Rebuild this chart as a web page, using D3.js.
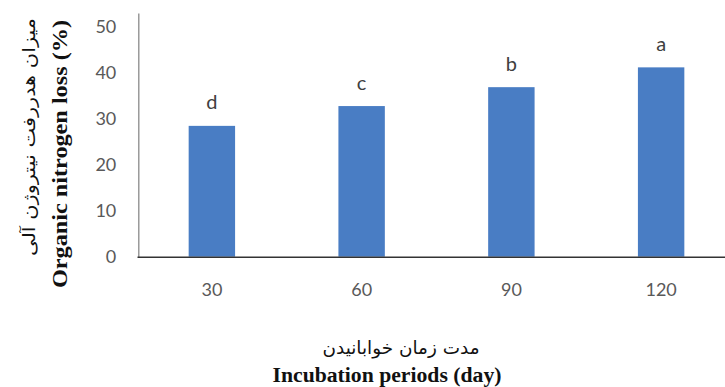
<!DOCTYPE html>
<html>
  <head>
    <meta charset="utf-8">
    <title>Organic nitrogen loss</title>
    <style>
      body { margin: 0; background: #fff; }
      .tick text { font-family: Lato, "Open Sans", sans-serif; font-size: 18px; fill: #595959; }
    </style>
    <script src="https://d3js.org/d3.v7.min.js"></script>
  </head>
  <body>
    <script type="text/javascript">
      // data
      var periods = ["30", "60", "90", "120"];
      var loss = [28.4, 32.7, 36.8, 41.1];
      var letters = ["d", "c", "b", "a"];
      var yTicks = [0, 10, 20, 30, 40, 50];
      var yTop = 52.9;   // the axis line runs a bit above 50

      var width = 725, height = 387;

      var svg = d3.select("body").append("svg")
          .attr("width", width)
          .attr("height", height);

      var x = d3.scaleBand()
          .domain(periods)
          .range([137, 736])
          .paddingInner(0.69)
          .paddingOuter(0.345);

      var y = d3.scaleLinear()
          .domain([0, yTop])
          .range([256.7, 13]);

      // bars
      svg.selectAll("rect.bar")
        .data(loss)
        .enter()
        .append("rect")
          .attr("class", "bar")
          .attr("x", function(d, i) { return x(periods[i]); })
          .attr("width", x.bandwidth())
          .attr("y", function(d) { return y(d); })
          .attr("height", function(d) { return y(0) - y(d); })
          .style("fill", "#497dc4");

      // significance letters
      svg.selectAll("text.letter")
        .data(loss)
        .enter()
        .append("text")
          .attr("class", "letter")
          .attr("x", function(d, i) { return x(periods[i]) + x.bandwidth() / 2; })
          .attr("y", function(d) { return y(d) - 16.5; })
          .attr("text-anchor", "middle")
          .style("font-family", "Lato, sans-serif")
          .style("font-size", "20px")
          .style("fill", "#404040")
          .text(function(d, i) { return letters[i]; });

      // y axis
      var yAxis = svg.append("g")
          .attr("transform", "translate(138.3,0)")
          .call(d3.axisLeft(y).tickValues(yTicks).tickSize(0).tickPadding(22).tickFormat(d3.format("d")));
      yAxis.select(".domain").attr("stroke", "#8a8a8a").attr("stroke-width", 1.3);

      // x axis
      var xAxis = svg.append("g")
          .attr("transform", "translate(0," + y(0) + ")")
          .call(d3.axisBottom(x).tickSize(0).tickPadding(27));
      xAxis.select(".domain").attr("stroke", "#333").attr("stroke-width", 1.5);

      // y titles
      svg.append("text")
          .attr("transform", "translate(35,137) rotate(-90)")
          .attr("text-anchor", "middle")
          .attr("textLength", 238)
          .attr("lengthAdjust", "spacingAndGlyphs")
          .style("font-family", "'DejaVu Sans', sans-serif")
          .style("font-size", "17px")
          .style("fill", "#111")
          .text("میزان هدررفت نیتروژن آلی");

      svg.append("text")
          .attr("transform", "translate(67,154) rotate(-90)")
          .attr("text-anchor", "middle")
          .attr("textLength", 268)
          .attr("lengthAdjust", "spacingAndGlyphs")
          .style("font-family", "'Liberation Serif', 'Times New Roman', serif")
          .style("font-weight", "bold")
          .style("font-size", "21px")
          .style("fill", "#111")
          .text("Organic nitrogen loss (%)");

      // x titles
      svg.append("text")
          .attr("x", 401)
          .attr("y", 354)
          .attr("text-anchor", "middle")
          .attr("textLength", 157)
          .attr("lengthAdjust", "spacingAndGlyphs")
          .style("font-family", "'DejaVu Sans', sans-serif")
          .style("font-size", "18px")
          .style("fill", "#111")
          .text("مدت زمان خوابانیدن");

      svg.append("text")
          .attr("x", 387)
          .attr("y", 382)
          .attr("text-anchor", "middle")
          .attr("textLength", 229)
          .attr("lengthAdjust", "spacingAndGlyphs")
          .style("font-family", "'Liberation Serif', 'Times New Roman', serif")
          .style("font-weight", "bold")
          .style("font-size", "20px")
          .style("fill", "#111")
          .text("Incubation periods (day)");
    </script>
  </body>
</html>
